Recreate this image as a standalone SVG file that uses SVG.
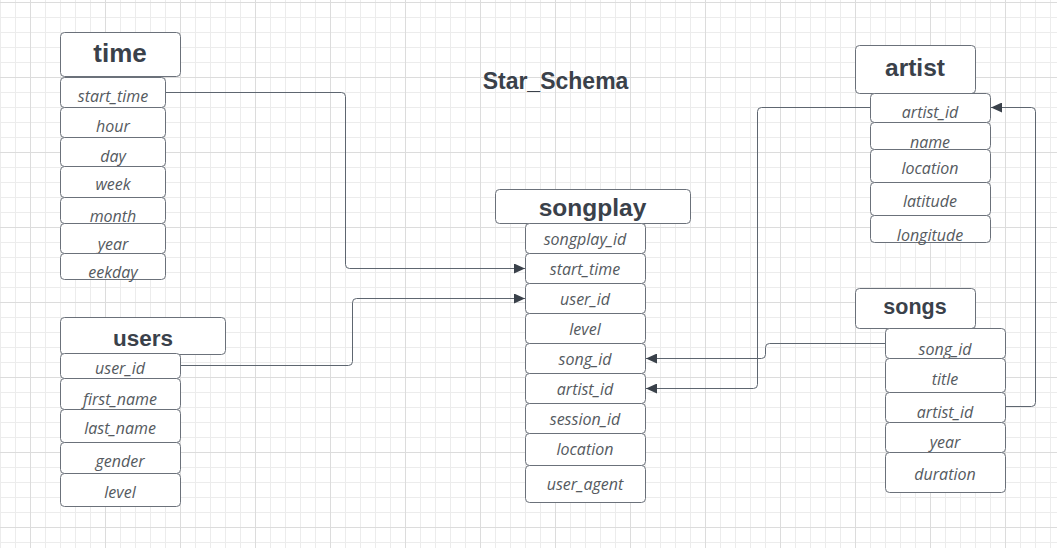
<svg xmlns="http://www.w3.org/2000/svg" width="1057" height="548" viewBox="0 0 1057 548">
<defs>
<pattern id="grid" patternUnits="userSpaceOnUse" x="30" y="2" width="75" height="75">
<path d="M15.5 0V75M30.5 0V75M45.5 0V75M60.5 0V75M0 15.5H75M0 30.5H75M0 45.5H75M0 60.5H75" stroke="#ececec" stroke-width="1" fill="none"/>
<path d="M0.5 0V75M0 0.5H75" stroke="#dcdcdc" stroke-width="1" fill="none"/>
</pattern>
<marker id="arr" markerWidth="11" markerHeight="10" refX="11" refY="5" orient="auto" markerUnits="userSpaceOnUse">
<path d="M0 0L11 5L0 10Z" fill="#3a414a"/>
</marker>
</defs>
<style>
.box{fill:#fff;stroke:#6b717a;stroke-width:1}
.hd{font-family:"Liberation Sans",Arial,sans-serif;font-weight:bold;fill:#3a414a;text-anchor:middle}
.fd{font-family:"Open Sans","Noto Sans",sans-serif;font-style:italic;font-size:16px;fill:#555a60;text-anchor:middle}
.ttl{font-family:"Liberation Sans",Arial,sans-serif;font-weight:bold;font-size:23px;fill:#3a414a;text-anchor:middle}
.cn{fill:none;stroke:#5e6670;stroke-width:1}
</style>
<rect width="1057" height="548" fill="#fff"/>
<rect width="1057" height="548" fill="url(#grid)"/>
<text class="ttl" x="555.5" y="89">Star_Schema</text>

<g id="time">
<rect class="box" x="60.5" y="32.5" width="120" height="44" rx="4"/>
<text class="hd" x="120" y="62" font-size="26">time</text>
<rect class="box" x="60.5" y="77.5" width="105" height="30" rx="4"/>
<text class="fd" x="113" y="102">start_time</text>
<rect class="box" x="60.5" y="107.5" width="105" height="30" rx="4"/>
<text class="fd" x="113" y="132">hour</text>
<rect class="box" x="60.5" y="137.5" width="105" height="29" rx="4"/>
<text class="fd" x="113" y="162">day</text>
<rect class="box" x="60.5" y="166.5" width="105" height="31" rx="4"/>
<text class="fd" x="113" y="190">week</text>
<rect class="box" x="60.5" y="197.5" width="105" height="26" rx="4"/>
<text class="fd" x="113" y="222">month</text>
<rect class="box" x="60.5" y="223.5" width="105" height="30" rx="4"/>
<text class="fd" x="113" y="250">year</text>
<rect class="box" x="60.5" y="253.5" width="105" height="26" rx="4"/>
<text class="fd" x="113" y="278">eekday</text>
</g>

<g id="users">
<rect class="box" x="60.5" y="317.5" width="165" height="37" rx="4"/>
<text class="hd" x="143" y="346" font-size="22.5">users</text>
<rect class="box" x="60.5" y="353.5" width="120" height="25" rx="4"/>
<text class="fd" x="120" y="374">user_id</text>
<rect class="box" x="60.5" y="378.5" width="120" height="31" rx="4"/>
<text class="fd" x="120" y="405">first_name</text>
<rect class="box" x="60.5" y="409.5" width="120" height="33" rx="4"/>
<text class="fd" x="120" y="434">last_name</text>
<rect class="box" x="60.5" y="442.5" width="120" height="31" rx="4"/>
<text class="fd" x="120" y="467">gender</text>
<rect class="box" x="60.5" y="473.5" width="120" height="33" rx="4"/>
<text class="fd" x="120" y="498">level</text>
</g>

<g id="songplay">
<rect class="box" x="495.5" y="189.5" width="195" height="34" rx="4"/>
<text class="hd" x="592.5" y="216" font-size="24.5">songplay</text>
<rect class="box" x="525.5" y="223.5" width="120" height="30" rx="4"/>
<text class="fd" x="585" y="245">songplay_id</text>
<rect class="box" x="525.5" y="253.5" width="120" height="30" rx="4"/>
<text class="fd" x="585" y="275">start_time</text>
<rect class="box" x="525.5" y="283.5" width="120" height="30" rx="4"/>
<text class="fd" x="585" y="305">user_id</text>
<rect class="box" x="525.5" y="313.5" width="120" height="30" rx="4"/>
<text class="fd" x="585" y="335">level</text>
<rect class="box" x="525.5" y="343.5" width="120" height="30" rx="4"/>
<text class="fd" x="585" y="365">song_id</text>
<rect class="box" x="525.5" y="373.5" width="120" height="30" rx="4"/>
<text class="fd" x="585" y="395">artist_id</text>
<rect class="box" x="525.5" y="403.5" width="120" height="30" rx="4"/>
<text class="fd" x="585" y="425">session_id</text>
<rect class="box" x="525.5" y="433.5" width="120" height="32" rx="4"/>
<text class="fd" x="585" y="455">location</text>
<rect class="box" x="525.5" y="465.5" width="120" height="37" rx="4"/>
<text class="fd" x="585" y="490">user_agent</text>
</g>

<g id="artist">
<rect class="box" x="855.5" y="45.5" width="120" height="48" rx="4"/>
<text class="hd" x="915" y="76" font-size="24.5">artist</text>
<rect class="box" x="870.5" y="93.5" width="120" height="29" rx="4"/>
<text class="fd" x="930" y="118">artist_id</text>
<rect class="box" x="870.5" y="122.5" width="120" height="27" rx="4"/>
<text class="fd" x="930" y="148">name</text>
<rect class="box" x="870.5" y="149.5" width="120" height="33" rx="4"/>
<text class="fd" x="930" y="174">location</text>
<rect class="box" x="870.5" y="182.5" width="120" height="33" rx="4"/>
<text class="fd" x="930" y="207">latitude</text>
<rect class="box" x="870.5" y="215.5" width="120" height="27" rx="4"/>
<text class="fd" x="930" y="241">longitude</text>
</g>

<g id="songs">
<rect class="box" x="855.5" y="288.5" width="120" height="40" rx="4"/>
<text class="hd" x="915" y="314" font-size="21.5">songs</text>
<rect class="box" x="885.5" y="328.5" width="120" height="30" rx="4"/>
<text class="fd" x="945" y="355">song_id</text>
<rect class="box" x="885.5" y="358.5" width="120" height="34" rx="4"/>
<text class="fd" x="945" y="385">title</text>
<rect class="box" x="885.5" y="392.5" width="120" height="30" rx="4"/>
<text class="fd" x="945" y="418">artist_id</text>
<rect class="box" x="885.5" y="422.5" width="120" height="30" rx="4"/>
<text class="fd" x="945" y="448">year</text>
<rect class="box" x="885.5" y="452.5" width="120" height="40" rx="4"/>
<text class="fd" x="945" y="480">duration</text>
</g>

<g id="connectors">
<path class="cn" d="M166 92.5H341.5Q345.5 92.5 345.5 96.5V264.5Q345.5 268.5 349.5 268.5H525" marker-end="url(#arr)"/>
<path class="cn" d="M181 365.5H348.5Q352.5 365.5 352.5 361.5V302.5Q352.5 298.5 356.5 298.5H525" marker-end="url(#arr)"/>
<path class="cn" d="M885 343.5H769.5Q765.5 343.5 765.5 347.5V354.5Q765.5 358.5 761.5 358.5H646" marker-end="url(#arr)"/>
<path class="cn" d="M870 107.5H761.5Q757.5 107.5 757.5 111.5V384.5Q757.5 388.5 753.5 388.5H646" marker-end="url(#arr)"/>
<path class="cn" d="M1006 406.5H1031.5Q1035.5 406.5 1035.5 402.5V111.5Q1035.5 107.5 1031.5 107.5H991" marker-end="url(#arr)"/>
</g>
</svg>
